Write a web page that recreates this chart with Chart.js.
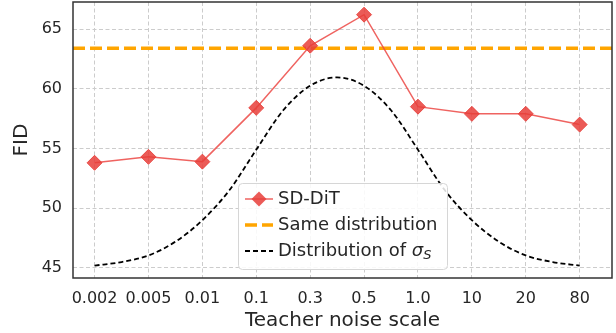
<!DOCTYPE html>
<html>
<head>
<meta charset="utf-8">
<script src="https://cdn.jsdelivr.net/npm/chart.js@4/dist/chart.umd.min.js"></script>
<style>
    html, body { margin: 0; padding: 0; background: #fff; }
    #wrap { position: relative; width: 616px; height: 333px; }
</style>
</head>
<body>
<div id="wrap"><canvas id="chart"></canvas></div>
<script>
// ===== Data =====
const noiseLabels = ['0.002', '0.005', '0.01', '0.1', '0.3', '0.5', '1.0', '10', '20', '80'];
const sdDitFid = [53.8, 54.3, 53.9, 58.4, 63.6, 66.2, 58.5, 57.9, 57.9, 57.0];
const sameDistFid = 63.4;
const yTicks = [45, 50, 55, 60, 65];

// dashed curve, read at half steps along the category axis
const sigmaPos = [0, 0.5, 1, 1.5, 2, 2.5, 3, 3.5, 4, 4.5, 5, 5.5, 6, 6.5, 7, 7.5, 8, 8.5, 9];
const sigmaDensity = [45.2, 45.5, 46.05, 47.2, 49.0, 51.5, 54.9, 58.2, 60.25, 60.95,
                      60.25, 58.2, 54.9, 51.5, 49.0, 47.2, 46.05, 45.5, 45.2];

const TEXT = '#262626';
const FONT = 'DejaVu Sans';

const RED_FILL = 'rgba(232, 62, 58, 0.85)';
const RED_LINE = 'rgba(236, 72, 68, 0.85)';
const ORANGE = '#ffa500';

// Frame round the plot (all four spines)
const framePlugin = {
    id: 'frame',
    afterDatasetsDraw(chart) {
        const { ctx, chartArea: a } = chart;
        ctx.save();
        ctx.strokeStyle = '#333';
        ctx.lineWidth = 1.5;
        ctx.strokeRect(a.left, a.top, a.right - a.left, a.bottom - a.top);
        ctx.restore();
    }
};

// Boxed legend in the lower middle of the plot
const boxLegend = {
    id: 'boxLegend',
    afterDraw(chart) {
        const { ctx, chartArea: a } = chart;
        const bx = a.left + 165, by = a.top + 181, bw = 209, bh = 86;
        ctx.save();
        ctx.beginPath();
        ctx.roundRect(bx + 0.5, by + 0.5, bw, bh, 4);
        ctx.fillStyle = 'rgba(255,255,255,0.85)';
        ctx.fill();
        ctx.strokeStyle = '#d6d6d6';
        ctx.lineWidth = 1;
        ctx.stroke();

        const ds = chart.data.datasets;
        const x0 = bx + 7, x1 = bx + 35, tx = bx + 40;
        const rows = [by + 16, by + 42, by + 68];

        ctx.textBaseline = 'middle';
        ctx.textAlign = 'left';
        ctx.fillStyle = TEXT;

        rows.forEach((ry, i) => {
            const d = ds[i];
            ctx.save();
            ctx.strokeStyle = d.borderColor;
            ctx.lineWidth = d.borderWidth;
            ctx.setLineDash(d.borderDash || []);
            ctx.beginPath();
            ctx.moveTo(x0, ry);
            ctx.lineTo(x1, ry);
            ctx.stroke();
            ctx.restore();
            if (d.pointStyle === 'rectRot') {
                const r = d.pointRadius;
                const cx = (x0 + x1) / 2;
                ctx.beginPath();
                ctx.moveTo(cx, ry - r);
                ctx.lineTo(cx + r, ry);
                ctx.lineTo(cx, ry + r);
                ctx.lineTo(cx - r, ry);
                ctx.closePath();
                ctx.fillStyle = d.pointBackgroundColor;
                ctx.fill();
                ctx.fillStyle = TEXT;
            }
        });

        ctx.font = `18px "${FONT}"`;
        ctx.fillText(ds[0].label, tx, rows[0]);
        ctx.fillText(ds[1].label, tx, rows[1]);

        // "Distribution of σ_S" with italic symbol and subscript
        let cx = tx;
        const plain = 'Distribution of ';
        ctx.fillText(plain, cx, rows[2]);
        cx += ctx.measureText(plain).width;
        ctx.font = `italic 18px "${FONT}"`;
        ctx.fillText('σ', cx, rows[2]);
        cx += ctx.measureText('σ').width;
        ctx.font = `italic 13px "${FONT}"`;
        ctx.fillText('S', cx, rows[2] + 5);
        ctx.restore();
    }
};

const ctx = document.getElementById('chart');

new Chart(ctx, {
    type: 'line',
    data: {
        datasets: [
            {
                label: 'SD-DiT',
                data: sdDitFid.map((v, i) => ({ x: i, y: v })),
                borderColor: RED_LINE,
                borderWidth: 1.5,
                pointStyle: 'rectRot',
                pointRadius: 7.5,
                pointBackgroundColor: RED_FILL,
                pointBorderColor: RED_FILL,
                pointBorderWidth: 1,
                tension: 0,
                order: 1,
            },
            {
                label: 'Same distribution',
                data: [{ x: -0.4, y: sameDistFid }, { x: 9.6, y: sameDistFid }],
                borderColor: ORANGE,
                borderWidth: 3.5,
                borderDash: [12, 5],
                pointRadius: 0,
                order: 2,
            },
            {
                label: 'Distribution of σS',
                data: sigmaPos.map((p, i) => ({ x: p, y: sigmaDensity[i] })),
                borderColor: '#000',
                borderWidth: 1.8,
                borderDash: [5, 3],
                pointRadius: 0,
                cubicInterpolationMode: 'monotone',
                order: 3,
            },
        ]
    },
    options: {
        responsive: true,
        maintainAspectRatio: false,
        animation: false,
        layout: { autoPadding: false, padding: { top: 2, right: 4, left: 0, bottom: 0 } },
        plugins: {
            legend: { display: false },
            tooltip: { enabled: false },
        },
        scales: {
            x: {
                type: 'linear',
                min: -0.4,
                max: 9.6,
                afterBuildTicks: (scale) => {
                    scale.ticks = noiseLabels.map((_, i) => ({ value: i }));
                },
                afterFit: (scale) => {
                    scale.height = 55;
                    scale.paddingLeft = 0;
                    scale.paddingRight = 0;
                },
                ticks: {
                    autoSkip: false,
                    maxRotation: 0,
                    padding: 11,
                    color: TEXT,
                    font: { family: FONT, size: 16 },
                    callback: (v) => noiseLabels[v],
                },
                grid: { color: '#cccccc', lineWidth: 1, drawTicks: false },
                border: { display: false, dash: [4, 2.5] },
                title: {
                    display: true,
                    text: 'Teacher noise scale',
                    color: TEXT,
                    font: { family: FONT, size: 20 },
                    padding: { top: 0, bottom: 0 },
                },
            },
            y: {
                min: 44.163,
                max: 67.26,
                afterBuildTicks: (scale) => {
                    scale.ticks = yTicks.map(v => ({ value: v }));
                },
                afterFit: (scale) => {
                    scale.width = 73;
                    scale.paddingTop = 0;
                    scale.paddingBottom = 0;
                },
                ticks: {
                    padding: 11,
                    color: TEXT,
                    font: { family: FONT, size: 16 },
                },
                grid: { color: '#cccccc', lineWidth: 1, drawTicks: false },
                border: { display: false, dash: [4, 2.5] },
                title: {
                    display: true,
                    text: 'FID',
                    color: TEXT,
                    font: { family: FONT, size: 20 },
                    padding: { top: 10, bottom: 0 },
                },
            }
        }
    },
    plugins: [framePlugin, boxLegend]
});
</script>
</body>
</html>
